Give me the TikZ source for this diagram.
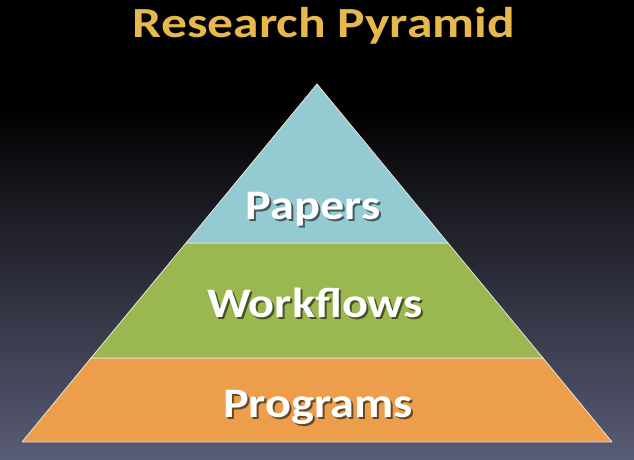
\documentclass[tikz,border=0pt]{standalone}
\usepackage{fontspec}
\setmainfont{Carlito}
\usepackage{graphicx}
\definecolor{gold}{HTML}{E6B84E}
\definecolor{paperblue}{HTML}{94CBD2}
\definecolor{flowgreen}{HTML}{9AB84F}
\definecolor{progorange}{HTML}{EC9E4D}
\definecolor{slate}{HTML}{595C76}
\definecolor{edgeline}{HTML}{E4E6D6}
\newcommand{\shadowed}[2]{\makebox[0pt][l]{\hspace{2pt}\raisebox{-2pt}{\scalebox{1.15}[1]{\textcolor{#1}{#2}}}}\scalebox{1.15}[1]{#2}}
\begin{document}
\begin{tikzpicture}[x=1pt,y=1pt,
  lbl/.style={text=white, font=\bfseries\fontsize{42}{50}\selectfont, anchor=base, inner sep=0pt},
  seg/.style={draw=edgeline, line width=0.8pt, line join=round}]
\fill[black] (0,355) rectangle (634,460);
\shade[top color=black, bottom color=slate] (0,0) rectangle (634,356);
\useasboundingbox (0,0) rectangle (634,460);
\coordinate (apex) at (317,376);
\coordinate (bl1) at (186,217);
\coordinate (br1) at (448,217);
\coordinate (bl2) at (91,102);
\coordinate (br2) at (543,102);
\coordinate (bl3) at (22,18);
\coordinate (br3) at (612,18);
\filldraw[seg, fill=progorange] (bl2) -- (br2) -- (br3) -- (bl3) -- cycle;
\filldraw[seg, fill=flowgreen] (bl1) -- (br1) -- (br2) -- (bl2) -- cycle;
\filldraw[seg, fill=paperblue] (apex) -- (br1) -- (bl1) -- cycle;
\node[anchor=base, inner sep=0pt, text=gold, font=\bfseries\fontsize{43}{50}\selectfont] (title) at (324,422) {\scalebox{1.2}[1]{Research Pyramid}};
\node[lbl] (papers) at (313,240) {\shadowed{black!55!paperblue}{Papers}};
\node[lbl] (workflows) at (315,142) {\shadowed{black!55!flowgreen}{Workflows}};
\node[lbl] (programs) at (318,42) {\shadowed{black!55!progorange}{Programs}};
\end{tikzpicture}
\end{document}
